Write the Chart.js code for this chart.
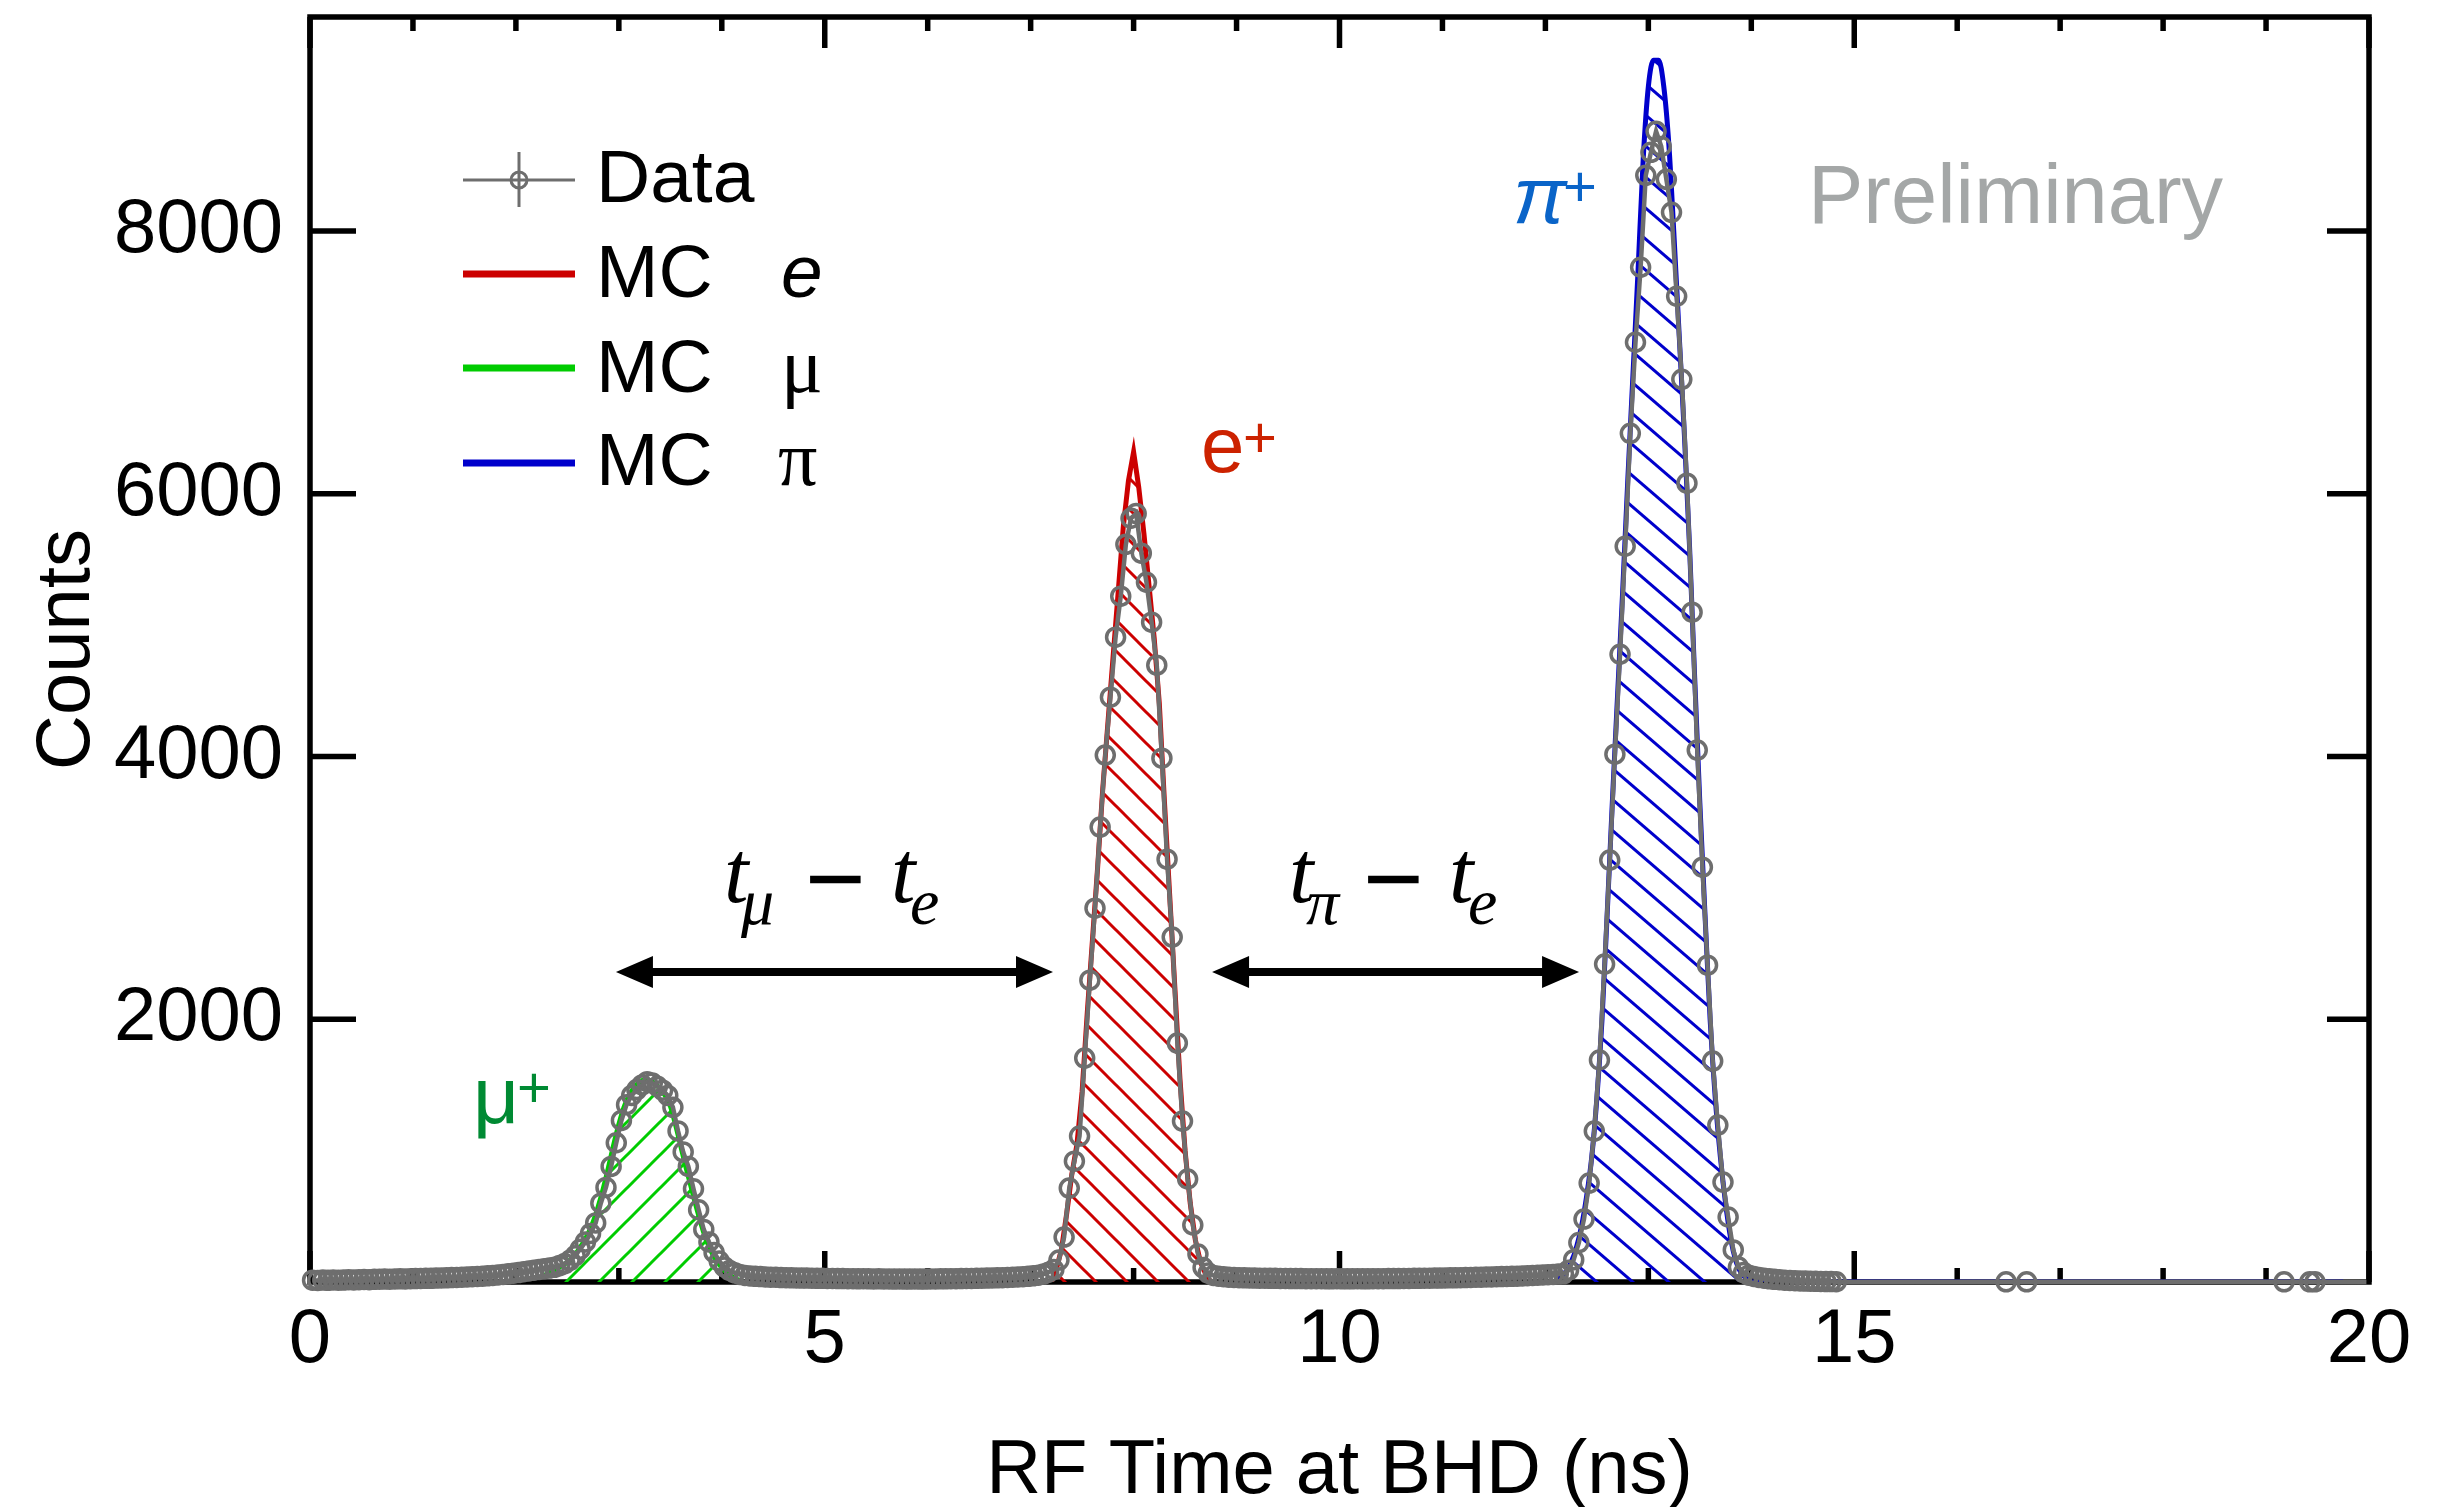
<!DOCTYPE html>
<html><head><meta charset="utf-8">
<script src="https://cdn.jsdelivr.net/npm/chart.js@4/dist/chart.umd.min.js"></script>
<style>html,body{margin:0;padding:0;background:#fff;}#wrap{width:2462px;height:1507px;}</style>
</head><body><div id="wrap"><canvas id="c" width="2462" height="1507"></canvas></div>
<script>
// ---------------- DATA ----------------
const binStart = 0.025, binWidth = 0.05;   // data histogram bins (ns)
const countsBaseA = [14,12,15,13,16,14,15,17,16,18,19,18,20,21,22,21,23,24,23,25,26,27,28,28,30,31,32,34,35,36,38,40,42,44,47,50,54,58,62,67,72,78,84,90,96,101,106];
const countsMu = [112,125,140,165,200,250,305,370,450,600,720,880,1060,1230,1350,1420,1465,1500,1525,1515,1490,1460,1420,1330,1150,990,880,710,550,400,305,225,160,115,88,70,58,50];
const countsBaseB = [46,43,41,39,37,36,34,33,32,31,30,30,29,28,28,27,27,26,26,25,25,24,25,24,23,24,23,23,22,23,22,22,23,22,22,23,23,24,24,25,25,26,27,27,28,29,30,31,32,33,35,36,38,40,43,47,52,60,75];
const countsE = [95,167,342,715,920,1111,1705,2298,2846,3463,4011,4452,4909,5221,5616,5814,5850,5548,5327,5023,4696,3988,3219,2626,1819,1225,784,434,213,110,68,50];
const countsBaseC = [44,40,37,35,33,32,31,30,29,29,28,28,27,27,26,26,26,25,25,25,25,24,24,25,24,24,24,25,24,24,25,25,25,26,26,26,27,27,28,28,29,29,30,30,31,32,32,33,34,35,36,37,38,39,40,41,42,43,44,46,48,50,52,54,56,58,60,62];
const countsPi = [90,170,300,479,753,1149,1690,2420,3212,4018,4779,5601,6461,7154,7725,8425,8600,8760,8645,8394,8143,7504,6872,6081,5099,4049,3158,2412,1682,1195,761,495,244,114,72];
const countsTail = [52,42,35,29,24,20,17,14,12,10,8,7,6,5,4,3,3,2];
const sparseTimes = [14.875, 16.475, 16.675, 19.175, 19.425, 19.475, 19.975];
const sparseCounts = [0, 1, 1, 1, 1, 1, 0];

const mcStep = 0.05;
const mcMuStart = 2.25;
const mcMuCounts = [40,60,80,105,125,150,185,235,295,365,455,575,715,875,1045,1200,1330,1420,1480,1520,1540,1535,1510,1470,1420,1340,1200,1040,880,730,580,440,320,230,160,110,70,40,20,0];
const mcEStart = 7.20;
const mcECounts = [0,100,250,520,820,1050,1450,2050,2600,3150,3750,4250,4750,5250,5750,6100,6320,6050,5700,5300,4900,4400,3650,2950,2250,1550,1000,600,320,150,60,0];
const mcPiStart = 12.10;
const mcPiCounts = [0,40,80,150,260,420,650,950,1400,2000,2800,3650,4450,5250,6100,6900,7700,8550,9100,9300,9300,9100,8650,7950,7200,6450,5600,4600,3650,2800,2000,1400,950,600,330,160,70,30,0];
const mcPiTailTimes = [19.75];
const mcPiTailCounts = [0];

const xMin = 0, xMax = 20, yMin = 0, yMax = 9630;
const xTicks = [0, 5, 10, 15, 20];
const xMinorStep = 1;
const yTicks = [2000, 4000, 6000, 8000];

// ---------------- BUILD ----------------
const dataCounts = [].concat(countsBaseA, countsMu, countsBaseB, countsE, countsBaseC, countsPi, countsTail);
const dataPts = dataCounts.map((v, i) => ({x: +(binStart + i * binWidth).toFixed(3), y: v}));
sparseTimes.forEach((t, i) => dataPts.push({x: t, y: sparseCounts[i]}));
function mcPts(start, arr) { return arr.map((v, i) => ({x: +(start + i * mcStep).toFixed(3), y: v})); }
const mcMu = mcPts(mcMuStart, mcMuCounts);
const mcE = mcPts(mcEStart, mcECounts);
const mcPi = mcPts(mcPiStart, mcPiCounts);
mcPiTailTimes.forEach((t, i) => mcPi.push({x: t, y: mcPiTailCounts[i]}));

const canvas = document.getElementById('c');
const ctx0 = canvas.getContext('2d');
function hatch(color, w, h, up, lw) {
  const c = document.createElement('canvas'); c.width = w; c.height = h;
  const g = c.getContext('2d'); g.strokeStyle = color; g.lineWidth = lw;
  for (let k = -1; k <= 1; k++) {
    g.beginPath();
    if (!up) { g.moveTo(-w, -h + k * h); g.lineTo(2 * w, 2 * h + k * h); }
    else { g.moveTo(-w, 2 * h + k * h); g.lineTo(2 * w, -h + k * h); }
    g.stroke();
  }
  return ctx0.createPattern(c, 'repeat');
}
const redHatch = hatch('#cc0000', 31, 31, false, 3);
const blueHatch = hatch('#0000cc', 36, 31, false, 3);
const greenHatch = hatch('#00cc00', 33, 33, true, 3);

const SANS = '"Liberation Sans", Arial, Helvetica, sans-serif';
const SERIF = '"Liberation Serif", "Times New Roman", serif';
const GRAY = '#6e6e6e';

function ln(ctx, x1, y1, x2, y2) { ctx.beginPath(); ctx.moveTo(x1, y1); ctx.lineTo(x2, y2); ctx.stroke(); }

const deco = {
  id: 'deco',
  beforeDatasetsDraw(chart) {
    const {ctx, chartArea: ca, scales: {x, y}} = chart;
    ctx.save();
    ctx.strokeStyle = '#000'; ctx.lineWidth = 5.5; ctx.lineCap = 'butt';
    ctx.strokeRect(ca.left, ca.top, ca.right - ca.left, ca.bottom - ca.top);
    for (let v = xMin; v <= xMax + 1e-9; v += xMinorStep) {
      const px = x.getPixelForValue(v);
      const L = xTicks.includes(v) ? 31 : 14;
      ln(ctx, px, ca.bottom, px, ca.bottom - L);
      ln(ctx, px, ca.top, px, ca.top + L);
    }
    yTicks.forEach(v => {
      const py = y.getPixelForValue(v);
      ln(ctx, ca.left, py, ca.left + 46, py);
      ln(ctx, ca.right, py, ca.right - 42, py);
    });
    ctx.restore();
  },
  afterDatasetsDraw(chart) {
    const {ctx, scales: {x, y}} = chart;
    ctx.save();
    ctx.textBaseline = 'alphabetic'; ctx.textAlign = 'left';
    function label(xv, yv, main, sup, color, font, dx, dy) {
      const px = x.getPixelForValue(xv), py = y.getPixelForValue(yv);
      ctx.fillStyle = color;
      ctx.font = font; ctx.fillText(main, px, py);
      ctx.font = '58px ' + SANS; ctx.fillText(sup, px + dx, py + dy);
    }
    label(8.655, 6166, 'e', '+', '#cc2200', '78px ' + SANS, 42, -15);
    label(1.583, 1210, 'μ', '+', '#008a33', '80px ' + SANS, 44, -16);
    label(11.685, 8061, 'π', '+', '#0a64c8', 'italic 80px ' + SANS, 50, -17);
    ctx.fillStyle = '#a4a7a7'; ctx.font = '83px ' + SANS;
    ctx.fillText('Preliminary', x.getPixelForValue(14.609) - 6, y.getPixelForValue(8061));
    function tdiff(xv, yv, sub1, offs) {
      const px = x.getPixelForValue(xv), py = y.getPixelForValue(yv);
      ctx.fillStyle = '#000';
      ctx.font = 'italic 88px ' + SERIF; ctx.fillText('t', px, py);
      ctx.font = 'italic 66px ' + SERIF; ctx.fillText(sub1, px + offs[0], py + 22);
      ctx.font = '104px ' + SANS; ctx.fillText('−', px + offs[1], py + 12);
      ctx.font = 'italic 88px ' + SERIF; ctx.fillText('t', px + offs[2], py);
      ctx.font = 'italic 66px ' + SERIF; ctx.fillText('e', px + offs[3], py + 22);
    }
    tdiff(4.021, 2893, 'μ', [17, 81, 167, 186]);
    tdiff(9.509, 2893, 'π', [17, 74, 160, 179]);
    function arrow(xa, xb, yv) {
      const pa = x.getPixelForValue(xa), pb = x.getPixelForValue(xb), py = y.getPixelForValue(yv);
      ctx.strokeStyle = '#000'; ctx.fillStyle = '#000'; ctx.lineWidth = 8;
      ln(ctx, pa + 30, py, pb - 30, py);
      ctx.beginPath(); ctx.moveTo(pa, py); ctx.lineTo(pa + 37, py - 16); ctx.lineTo(pa + 37, py + 16); ctx.closePath(); ctx.fill();
      ctx.beginPath(); ctx.moveTo(pb, py); ctx.lineTo(pb - 37, py - 16); ctx.lineTo(pb - 37, py + 16); ctx.closePath(); ctx.fill();
    }
    arrow(2.972, 7.217, 2360);
    arrow(8.762, 12.327, 2360);
    // legend
    const lx0 = 463, lx1 = 575, tx = 596, sx = 781;
    ctx.strokeStyle = GRAY; ctx.lineWidth = 3;
    ln(ctx, lx0, 180, lx1, 180); ln(ctx, 519, 152, 519, 207);
    ctx.beginPath(); ctx.arc(519, 180, 8, 0, Math.PI * 2); ctx.stroke();
    ctx.lineWidth = 7;
    ctx.strokeStyle = '#cc0000'; ln(ctx, lx0, 274, lx1, 274);
    ctx.strokeStyle = '#00cc00'; ln(ctx, lx0, 368, lx1, 368);
    ctx.strokeStyle = '#0000cc'; ln(ctx, lx0, 463, lx1, 463);
    ctx.fillStyle = '#000'; ctx.font = '75px ' + SANS;
    ctx.fillText('Data', tx, 202);
    ctx.fillText('MC', tx, 297); ctx.fillText('MC', tx, 392); ctx.fillText('MC', tx, 485);
    ctx.font = 'italic 75px ' + SANS; ctx.fillText('e', sx, 297);
    ctx.font = '78px ' + SERIF; ctx.fillText('μ', sx, 392); ctx.fillText('π', sx - 3, 485);
    ctx.restore();
  }
};

function zeroPad(s) { s.paddingTop = 0; s.paddingBottom = 0; s.paddingLeft = 0; s.paddingRight = 0; }

new Chart(canvas, {
  type: 'line',
  data: {
    datasets: [
      {label: 'Data', data: dataPts, borderColor: GRAY, borderWidth: 4.5, tension: 0, fill: false,
       pointRadius: c => (c.raw && c.raw.y > 0) ? 9 : 0, pointBorderWidth: 3.5, pointBorderColor: GRAY,
       pointBackgroundColor: 'rgba(0,0,0,0)', clip: false, order: 0},
      {label: 'MC π', data: mcPi, borderColor: '#0000cc', borderWidth: 5, backgroundColor: blueHatch,
       fill: 'origin', pointRadius: 0, cubicInterpolationMode: 'monotone', order: 1},
      {label: 'MC e', data: mcE, borderColor: '#cc0000', borderWidth: 5, backgroundColor: redHatch,
       fill: 'origin', pointRadius: 0, tension: 0, order: 2},
      {label: 'MC μ', data: mcMu, borderColor: '#00cc00', borderWidth: 5, backgroundColor: greenHatch,
       fill: 'origin', pointRadius: 0, cubicInterpolationMode: 'monotone', order: 3}
    ]
  },
  options: {
    responsive: false, animation: false, devicePixelRatio: 1, events: [],
    layout: {padding: {left: 0, top: 17, right: 93, bottom: 0}},
    plugins: {legend: {display: false}, tooltip: {enabled: false}},
    scales: {
      x: {type: 'linear', min: xMin, max: xMax,
          afterBuildTicks: s => { s.ticks = xTicks.map(v => ({value: v})); },
          afterFit: s => { s.height = 225; zeroPad(s); },
          grid: {display: false, drawTicks: false}, border: {display: false},
          ticks: {padding: 13, color: '#000', maxRotation: 0, minRotation: 0, autoSkip: false,
                  font: {family: SANS, size: 76}, callback: v => String(v)},
          title: {display: true, text: 'RF Time at BHD (ns)', color: '#000',
                  font: {family: SANS, size: 76, lineHeight: 1.2}, padding: {top: 0, bottom: -11}}},
      y: {type: 'linear', min: yMin, max: yMax,
          afterBuildTicks: s => { s.ticks = yTicks.map(v => ({value: v})); },
          afterFit: s => { s.width = 310; zeroPad(s); },
          grid: {display: false, drawTicks: false}, border: {display: false},
          ticks: {padding: 27, color: '#000', autoSkip: false,
                  font: {family: SANS, size: 76}, callback: v => String(v)},
          title: {display: true, text: 'Counts', color: '#000',
                  font: {family: SANS, size: 76, lineHeight: 1.2}, padding: {top: 22, bottom: 0}}}
    }
  },
  plugins: [deco]
});
</script></body></html>
